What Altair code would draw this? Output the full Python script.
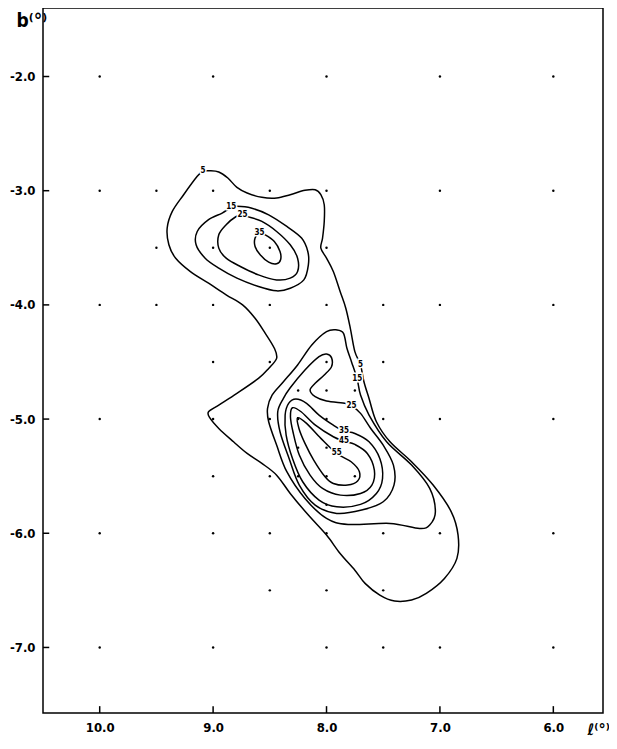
import altair as alt
import pandas as pd

# ---------------- data ----------------
x_ticks = [10.0, 9.0, 8.0, 7.0, 6.0]
y_ticks = [-2.0, -3.0, -4.0, -5.0, -6.0, -7.0]

# grid dots (galactic l, b) by row
dot_rows = {
    -2.0: [10.0, 9.0, 8.0, 7.0, 6.0],
    -3.0: [10.0, 9.5, 9.0, 8.5, 8.0, 7.0, 6.0],
    -3.5: [9.5, 9.0, 8.5, 8.0],
    -4.0: [10.0, 9.5, 9.0, 8.5, 8.0, 7.5, 7.0, 6.0],
    -4.5: [9.0, 8.5, 8.0, 7.5],
    -4.75: [8.25, 8.0, 7.75],
    -5.0: [10.0, 9.0, 8.5, 8.25, 8.0, 7.5, 7.0, 6.0],
    -5.25: [8.25, 8.0],
    -5.5: [9.0, 8.5, 8.25, 8.0, 7.75],
    -5.75: [8.0],
    -6.0: [10.0, 9.0, 8.5, 8.0, 7.5, 7.0, 6.0],
    -6.5: [8.5, 8.0, 7.5],
    -7.0: [10.0, 9.0, 8.0, 7.5, 7.0, 6.0],
}

c5_outer = [(9.09, -2.83), (9.03, -2.825), (8.95, -2.836), (8.87, -2.889), (8.79, -2.971),
            (8.70, -3.02), (8.57, -3.058), (8.44, -3.064), (8.32, -3.035), (8.19, -2.997),
            (8.10, -2.991), (8.05, -3.035), (8.02, -3.123), (8.02, -3.269), (8.035, -3.415),
            (8.05, -3.503), (8.00, -3.591), (7.94, -3.708), (7.88, -3.883), (7.83, -4.029),
            (7.79, -4.205), (7.75, -4.409), (7.70, -4.526), (7.67, -4.673), (7.625, -4.819),
            (7.56, -5.023), (7.44, -5.199), (7.25, -5.374), (7.06, -5.578), (6.90, -5.812),
            (6.84, -6.016), (6.85, -6.22), (6.96, -6.396), (7.12, -6.527), (7.25, -6.585),
            (7.40, -6.594), (7.53, -6.542), (7.66, -6.439), (7.75, -6.323), (7.88, -6.177),
            (8.00, -6.016), (8.16, -5.841), (8.32, -5.651), (8.44, -5.491), (8.57, -5.388),
            (8.70, -5.301), (8.82, -5.199), (8.95, -5.082), (9.03, -4.988), (9.04, -4.936),
            (8.95, -4.877), (8.79, -4.775), (8.60, -4.644), (8.51, -4.556), (8.44, -4.468),
            (8.46, -4.38), (8.54, -4.249), (8.63, -4.117), (8.74, -4.0), (8.885, -3.912),
            (9.04, -3.81), (9.20, -3.708), (9.33, -3.591), (9.39, -3.474), (9.405, -3.327),
            (9.36, -3.181), (9.26, -3.035), (9.14, -2.874)]

c15_upper = [(8.84, -3.146), (8.79, -3.137), (8.665, -3.152), (8.51, -3.211), (8.35, -3.313),
             (8.22, -3.415), (8.165, -3.532), (8.16, -3.649), (8.20, -3.781), (8.32, -3.854),
             (8.44, -3.877), (8.60, -3.839), (8.79, -3.766), (8.95, -3.678), (9.07, -3.591),
             (9.15, -3.474), (9.14, -3.357), (9.04, -3.254), (8.92, -3.196)]

c25_upper = [(8.74, -3.211), (8.70, -3.225), (8.57, -3.269), (8.44, -3.357), (8.32, -3.474),
             (8.255, -3.591), (8.255, -3.708), (8.32, -3.766), (8.44, -3.781), (8.60, -3.737),
             (8.76, -3.664), (8.885, -3.591), (8.95, -3.503), (8.95, -3.386), (8.885, -3.298),
             (8.80, -3.228)]

c35_upper = [(8.59, -3.371), (8.54, -3.386), (8.46, -3.444), (8.41, -3.532), (8.405, -3.605),
             (8.44, -3.64), (8.51, -3.626), (8.585, -3.561), (8.63, -3.488), (8.63, -3.415)]

c15_lower = [(7.91, -4.219), (7.85, -4.249), (7.82, -4.38), (7.78, -4.497), (7.73, -4.649),
             (7.70, -4.79), (7.625, -4.965), (7.47, -5.199), (7.25, -5.403), (7.09, -5.607),
             (7.04, -5.812), (7.09, -5.928), (7.18, -5.958), (7.44, -5.914), (7.81, -5.923),
             (8.00, -5.87), (8.19, -5.695), (8.35, -5.461), (8.44, -5.228), (8.51, -5.023),
             (8.52, -4.907), (8.48, -4.79), (8.38, -4.673), (8.255, -4.526), (8.13, -4.351),
             (8.00, -4.234)]

c25_lower = [(8.066, -4.453), (8.00, -4.43), (7.956, -4.462), (7.956, -4.541), (8.02, -4.614),
             (8.10, -4.687), (8.145, -4.746), (8.10, -4.804), (8.00, -4.842), (7.83, -4.863),
             (7.78, -4.883), (7.70, -4.95), (7.61, -5.082), (7.50, -5.228), (7.41, -5.403),
             (7.405, -5.578), (7.50, -5.724), (7.69, -5.797), (7.91, -5.826), (8.10, -5.753),
             (8.24, -5.578), (8.33, -5.345), (8.41, -5.111), (8.43, -4.936), (8.38, -4.819),
             (8.32, -4.726), (8.19, -4.57)]

c35_lower = [(8.27, -4.825), (8.176, -4.863), (8.066, -4.965), (7.94, -5.053), (7.846, -5.105),
             (7.75, -5.126), (7.625, -5.199), (7.53, -5.345), (7.506, -5.52), (7.56, -5.651),
             (7.70, -5.747), (7.91, -5.768), (8.066, -5.709), (8.21, -5.549), (8.30, -5.345),
             (8.356, -5.14), (8.365, -4.965), (8.334, -4.863)]

c45_lower = [(8.30, -4.901), (8.224, -4.936), (8.098, -5.053), (7.94, -5.155), (7.846, -5.193),
             (7.75, -5.222), (7.64, -5.301), (7.578, -5.447), (7.60, -5.578), (7.70, -5.651),
             (7.877, -5.666), (8.035, -5.607), (8.145, -5.491), (8.24, -5.315), (8.296, -5.111),
             (8.318, -4.98)]

c55_lower = [(8.255, -4.988), (8.176, -5.038), (8.05, -5.169), (7.91, -5.301), (7.783, -5.374),
             (7.71, -5.461), (7.726, -5.543), (7.814, -5.578), (7.94, -5.564), (8.013, -5.505),
             (8.113, -5.359), (8.19, -5.213), (8.243, -5.082)]

contours = {
    "c5": c5_outer, "c15u": c15_upper, "c25u": c25_upper, "c35u": c35_upper,
    "c15l": c15_lower, "c25l": c25_lower, "c35l": c35_lower, "c45l": c45_lower,
    "c55l": c55_lower,
}

label_text = ["5", "15", "25", "35", "5", "15", "25", "35", "45", "55"]
label_l = [9.09, 8.84, 8.74, 8.59, 7.70, 7.73, 7.78, 7.846, 7.846, 7.91]
label_b = [-2.83, -3.146, -3.211, -3.371, -4.526, -4.649, -4.883, -5.105, -5.193, -5.30]

# ---------------- tables ----------------
dots_df = pd.DataFrame([{"l": l, "b": b} for b, ls in dot_rows.items() for l in ls])
cont_df = pd.DataFrame([{"cid": k, "idx": i, "l": p[0], "b": p[1]}
                        for k, pts in contours.items() for i, p in enumerate(pts)])
lab_df = pd.DataFrame({"t": label_text, "l": label_l, "b": label_b})

X_MIN, X_MAX = 5.562, 10.5
Y_MIN, Y_MAX = -7.574, -1.4
xt_df = pd.DataFrame({"l": x_ticks, "b1": [Y_MIN] * len(x_ticks), "b2": [Y_MIN + 0.06] * len(x_ticks)})
yt_df = pd.DataFrame({"b": y_ticks, "l1": [X_MAX] * len(y_ticks), "l2": [X_MAX - 0.055] * len(y_ticks)})

FONT = "DejaVu Sans Condensed, Liberation Sans Narrow, Arial Narrow, Liberation Sans, sans-serif"

xscale = alt.Scale(domain=[X_MIN, X_MAX], reverse=True, nice=False, zero=False)
yscale = alt.Scale(domain=[Y_MIN, Y_MAX], nice=False, zero=False)

xaxis = alt.Axis(values=x_ticks, format=".1f", domain=False, ticks=False, grid=False,
                 labelFont=FONT, labelFontSize=13, labelFontWeight="bold", labelColor="black",
                 labelPadding=8, title="ℓ⁽°⁾", titleFont=FONT, titleFontSize=16,
                 titleFontWeight="bold", titleX=544, titleY=21, titleAlign="left",
                 titleBaseline="alphabetic", titleColor="black")
yaxis = alt.Axis(values=y_ticks, labelExpr="'-' + format(abs(datum.value), '.1f')",
                 domain=False, ticks=False, grid=False,
                 labelFont=FONT, labelFontSize=13, labelFontWeight="bold", labelColor="black",
                 labelPadding=8, title="b⁽°⁾", titleFont=FONT, titleFontSize=19,
                 titleFontWeight="bold", titleAngle=0, titleX=-27, titleY=18,
                 titleAlign="left", titleBaseline="alphabetic", titleColor="black")

X = alt.X("l:Q", scale=xscale, axis=xaxis)
Y = alt.Y("b:Q", scale=yscale, axis=yaxis)

dots = alt.Chart(dots_df).mark_circle(size=6, color="black", opacity=1).encode(x=X, y=Y)

lines = alt.Chart(cont_df).mark_line(interpolate="cardinal-closed", color="black",
                                     strokeWidth=1.5).encode(
    x=X, y=Y, detail="cid:N", order="idx:Q")

halo = alt.Chart(lab_df).mark_text(fontSize=8, fontWeight="bold", font=FONT, color="white",
                                   stroke="white", strokeWidth=3).encode(x=X, y=Y, text="t:N")
labels = alt.Chart(lab_df).mark_text(fontSize=8, fontWeight="bold", font=FONT,
                                     color="black").encode(x=X, y=Y, text="t:N")

xticks = alt.Chart(xt_df).mark_rule(color="black", strokeWidth=1.5).encode(
    x=alt.X("l:Q", scale=xscale, axis=xaxis), y=alt.Y("b1:Q", scale=yscale, axis=yaxis),
    y2="b2:Q")
yticks = alt.Chart(yt_df).mark_rule(color="black", strokeWidth=1.5).encode(
    x=alt.X("l1:Q", scale=xscale, axis=xaxis), x2="l2:Q",
    y=alt.Y("b:Q", scale=yscale, axis=yaxis))

chart = alt.layer(dots, lines, halo, labels, xticks, yticks).properties(
    width=560, height=705,
    autosize=alt.AutoSizeParams(type="none"),
    padding={"left": 35, "top": 0, "right": 6, "bottom": 24},
    background="white",
).configure_view(stroke="black", strokeWidth=1.5)

chart.save("out.html", embed_options={"renderer": "svg", "actions": False})
